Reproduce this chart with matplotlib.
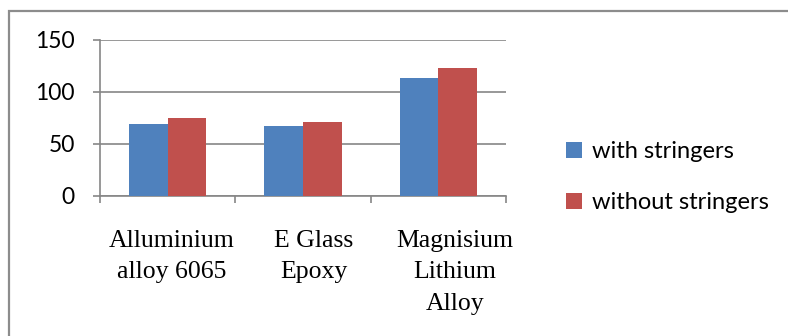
import numpy as np
import matplotlib.pyplot as plt
from matplotlib.patches import Rectangle
from matplotlib.transforms import blended_transform_factory

materials = ["Alluminium\nalloy 6065", "E Glass\nEpoxy", "Magnisium\nLithium\nAlloy"]
with_stringers = [69, 67, 113]
without_stringers = [75, 71, 123]
series_names = ["with stringers", "without stringers"]
yticks = [0, 50, 100, 150]

BLUE = "#4F81BD"
RED = "#C0504D"
GRAY = "#868686"

fig = plt.figure(figsize=(7.88, 3.36), dpi=100)
ax = fig.add_axes([100/788, 1 - 196/336, 406/788, 156/336])

x = np.arange(len(materials))
w = 0.285
b1 = ax.bar(x - w/2, with_stringers, w, color=BLUE, label=series_names[0], zorder=3)
b2 = ax.bar(x + w/2, without_stringers, w, color=RED, label=series_names[1], zorder=3)

ax.set_xlim(-0.5, len(materials) - 0.5)
ax.set_ylim(0, 150)
ax.set_yticks(yticks)
ax.set_yticklabels([str(v) for v in yticks], family="Lato", fontsize=16.5)
ax.yaxis.grid(True, color=GRAY, lw=1.2, zorder=0)
ax.set_axisbelow(True)

# tick marks sit on the category boundaries
ax.set_xticks(np.arange(len(materials) + 1) - 0.5)
ax.set_xticklabels([])
ax.tick_params(axis="x", length=5, width=1.2, color=GRAY)
ax.tick_params(axis="y", length=5, width=1.2, color=GRAY, pad=13)

for s in ["top", "right"]:
    ax.spines[s].set_visible(False)
for s in ["left", "bottom"]:
    ax.spines[s].set_color(GRAY)
    ax.spines[s].set_linewidth(1.2)

# category labels, serif, drawn below the axis
nudge = [0.03, 0.08, 0.12]
trans = blended_transform_factory(ax.transData, ax.transAxes)
for i, name in enumerate(materials):
    ax.text(i + nudge[i], -0.215, name, transform=trans, ha="center", va="top",
            family="Liberation Serif", fontsize=18.5, linespacing=1.56)

fig.legend(handles=[b1, b2], loc="center left", bbox_to_anchor=(566/788, 1 - 177/336),
           frameon=False, borderpad=0, borderaxespad=0, handlelength=0.68, handleheight=0.68,
           handletextpad=0.4, labelspacing=1.28, prop={"family": "Lato", "size": 17})

# outer chart frame
fig.patches.append(Rectangle((9/788, -0.1), 1.2, 1.1 - 11/336, transform=fig.transFigure,
                             fill=False, edgecolor="#8c8c8c", lw=1.6))

fig.savefig("out.png", dpi=100)
